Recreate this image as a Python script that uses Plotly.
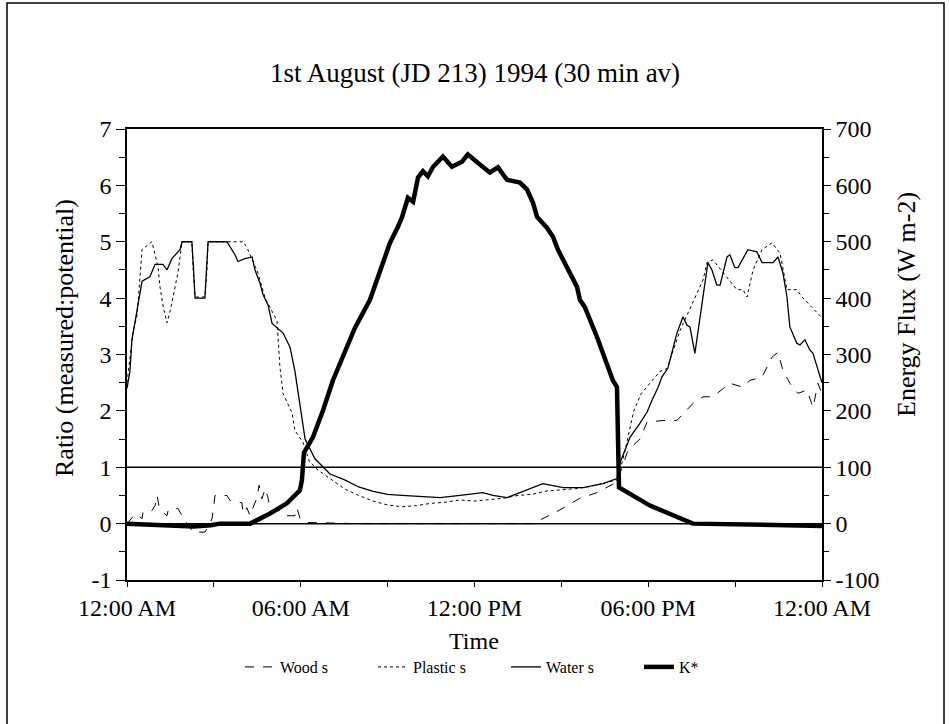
import plotly.graph_objects as go

# Chart text
title_text = "1st August (JD 213) 1994 (30 min av)"
time_ticks = [0, 6, 12, 18, 24]
time_labels = ["12:00 AM", "06:00 AM", "12:00 PM", "06:00 PM", "12:00 AM"]
ratio_ticks = [-1, 0, 1, 2, 3, 4, 5, 6, 7]
ratio_labels = ["-1", "0", "1", "2", "3", "4", "5", "6", "7"]
flux_ticks = [-100, 0, 100, 200, 300, 400, 500, 600, 700]
flux_labels = ["-100", "0", "100", "200", "300", "400", "500", "600", "700"]

# Ratio (measured:potential) for the three surfaces, time in decimal hours
wood_t = [0.00, 0.28, 0.38, 0.52, 0.55, 0.86, 0.97, 1.04, 1.10, 1.24, 1.38, 1.42, 1.55, 1.76,
          1.90, 2.07, 2.28, 2.69, 2.87, 2.94, 3.04, 3.45, 3.56, 3.97, 4.01, 4.14, 4.25, 4.35,
          4.49, 4.56, 4.66, 4.77, 4.87, 4.94, 5.28, 5.39, 5.52, 5.80, 5.87, 5.97, 6.2, 8.0,
          10.0, 12.0, 14.0, 14.2, 14.8, 15.64, 16.23, 16.78, 16.95, 17.3, 17.71, 17.96, 18.51,
          18.99, 19.54, 19.89, 20.23, 20.82, 21.27, 21.51, 21.93, 22.27, 22.48, 22.65, 22.89,
          23.17, 23.48, 23.69, 23.86, 24.0]
wood_v = [0.0, 0.17, 0.14, 0.09, 0.2, 0.23, 0.32, 0.5, 0.32, 0.2, 0.14, 0.23, 0.27, 0.27,
          0.14, 0.0, -0.15, -0.15, 0.0, 0.1, 0.5, 0.5, 0.41, 0.37, 0.18, 0.28, 0.14, 0.28,
          0.46, 0.68, 0.44, 0.62, 0.46, 0.23, 0.23, 0.18, 0.14, 0.14, 0.28, 0.1, 0.02, 0.0,
          0.0, 0.0, 0.0, 0.05, 0.2, 0.45, 0.55, 0.7, 0.78, 1.3, 1.5, 1.8, 1.83,
          1.83, 2.13, 2.25, 2.25, 2.49, 2.42, 2.54, 2.6, 2.95, 3.04, 2.72, 2.49,
          2.31, 2.37, 2.06, 2.49, 2.3]

plastic_t = [0.00, 0.21, 0.35, 0.52, 0.86, 1.07, 1.14, 1.24, 1.38, 1.48, 1.59, 1.66, 1.76,
             1.90, 2.24, 2.28, 2.35, 2.69, 2.76, 2.80, 4.01, 4.14, 4.52, 4.77, 5.18, 5.28,
             5.39, 5.70, 5.80, 6.08, 6.3, 6.6, 7.0, 7.5, 8.0, 8.5, 9.0, 9.5, 10.0, 10.5,
             11.0, 11.5, 12.0, 12.5, 13.0, 13.5, 14.0, 14.5, 15.0, 15.5, 16.0, 16.5, 16.95,
             17.2, 17.5, 17.75, 18.4, 18.65, 19.10, 19.89, 20.03, 20.23, 21.06, 21.27, 21.41,
             21.62, 21.93, 22.27, 22.55, 22.79, 23.13, 23.31, 23.58, 23.83, 24.0]
plastic_v = [2.5, 3.4, 3.7, 4.86, 5.0, 4.56, 4.2, 3.88, 3.56, 3.75, 4.02, 4.2, 4.45,
             5.0, 5.0, 4.56, 4.02, 4.02, 4.5, 5.0, 5.0, 4.9, 4.45, 4.0, 3.6, 2.78,
             2.31, 1.96, 1.65, 1.44, 1.1, 0.95, 0.8, 0.62, 0.5, 0.4, 0.33, 0.3, 0.32, 0.36,
             0.38, 0.42, 0.4, 0.42, 0.45, 0.5, 0.52, 0.58, 0.6, 0.62, 0.66, 0.72, 0.78,
             1.3, 2.0, 2.3, 2.7, 2.75, 3.43, 4.32, 4.63, 4.68, 4.15, 4.15, 4.02,
             4.5, 4.86, 4.98, 4.8, 4.15, 4.15, 4.02, 3.88, 3.74, 3.65]

water_t = [0.00, 0.10, 0.17, 0.28, 0.52, 0.79, 0.97, 1.24, 1.38, 1.55, 1.83, 1.90, 2.24,
           2.30, 2.35, 2.69, 2.75, 2.80, 3.45, 3.73, 3.83, 4.07, 4.32, 4.42, 4.59, 4.70,
           4.87, 5.01, 5.39, 5.63, 5.80, 5.97, 6.15, 6.49, 7.01, 7.5, 8.0, 8.5, 9.0, 9.5,
           10.0, 10.81, 11.50, 12.29, 12.64, 13.12, 13.57, 14.36, 15.06, 15.75, 16.44, 16.92,
           17.02, 17.37, 17.71, 17.96, 18.13, 18.34, 18.47, 18.68, 18.99, 19.20, 19.34, 19.44,
           19.61, 19.72, 19.89, 20.06, 20.20, 20.37, 20.48, 20.72, 20.82, 20.99, 21.10, 21.44,
           21.75, 21.93, 22.31, 22.48, 22.65, 22.79, 22.89, 23.13, 23.24, 23.41, 23.58, 23.69,
           23.83, 23.93, 24.0]
water_v = [2.4, 2.7, 3.26, 3.6, 4.3, 4.38, 4.6, 4.6, 4.5, 4.7, 4.86, 5.0, 5.0,
           4.5, 4.0, 4.0, 4.5, 5.0, 5.0, 4.77, 4.65, 4.7, 4.73, 4.5, 4.27, 4.06,
           3.88, 3.55, 3.38, 3.13, 2.7, 2.1, 1.5, 1.15, 0.88, 0.78, 0.65, 0.57, 0.52, 0.5,
           0.48, 0.46, 0.5, 0.55, 0.5, 0.46, 0.55, 0.71, 0.64, 0.64, 0.71, 0.8,
           1.07, 1.53, 1.78, 1.98, 2.19, 2.42, 2.6, 2.76, 3.38, 3.67, 3.52, 3.49,
           3.02, 3.43, 4.02, 4.63, 4.5, 4.23, 4.23, 4.73, 4.77, 4.54, 4.54, 4.86,
           4.82, 4.63, 4.63, 4.73, 4.45, 4.02, 3.49, 3.2, 3.17, 3.26, 3.08, 3.02,
           2.78, 2.6, 2.5]

# Net shortwave radiation K* (W m-2), right axis
kstar_t = [0.0, 1.9, 2.3, 2.9, 3.2, 4.25, 4.94, 5.52, 5.97, 6.04, 6.11, 6.42, 6.77, 7.11,
           7.42, 7.87, 8.39, 8.74, 9.08, 9.36, 9.50, 9.70, 9.88, 10.05, 10.22, 10.39, 10.57,
           10.91, 11.22, 11.57, 11.77, 12.09, 12.53, 12.81, 13.12, 13.57, 13.81, 14.02, 14.16,
           14.50, 14.71, 14.88, 15.12, 15.30, 15.54, 15.64, 15.81, 16.23, 16.51, 16.78, 16.92,
           16.95, 16.99, 18.06, 19.54, 24.0]
kstar_v = [0, -3, -5, -3, 0, 0, 18, 36, 59, 77, 126, 153, 201, 254,
           290, 347, 397, 450, 498, 527, 544, 578, 571, 614, 625, 616, 633,
           651, 633, 642, 655, 641, 623, 632, 610, 605, 593, 569, 544,
           525, 509, 486, 463, 445, 420, 397, 384, 331, 290, 254, 242,
           107, 64, 32, 0, -4]

FONT = "Liberation Serif, Times New Roman, serif"
W, H = 949, 724
ML, MR, MT, MB = 127, 127, 129, 144
PW, PH = W - ML - MR, H - MT - MB


def px_x(px):
    return (px - ML) / PW


def px_y(py):
    return (H - MB - py) / PH


fig = go.Figure()
fig.add_trace(go.Scatter(x=wood_t, y=wood_v, name="Wood s", mode="lines",
                         line=dict(color="black", width=1, dash="dash")))
fig.add_trace(go.Scatter(x=plastic_t, y=plastic_v, name="Plastic s", mode="lines",
                         line=dict(color="black", width=1, dash="dot")))
fig.add_trace(go.Scatter(x=water_t, y=water_v, name="Water s", mode="lines",
                         line=dict(color="black", width=1.3)))
fig.add_trace(go.Scatter(x=kstar_t, y=kstar_v, name="K*", mode="lines", yaxis="y2",
                         line=dict(color="black", width=4.5)))

axis_common = dict(showgrid=False, zeroline=False, showline=True, linecolor="black",
                   linewidth=1.5, ticks="outside", tickcolor="black",
                   tickfont=dict(family=FONT, size=24, color="black"))

fig.update_layout(
    width=W, height=H, autosize=False,
    margin=dict(l=ML, r=MR, t=MT, b=MB),
    paper_bgcolor="white", plot_bgcolor="white",
    font=dict(family=FONT, color="black"),
    title=dict(text=title_text, x=475 / W, xanchor="center", y=1 - 73 / H,
               yanchor="middle", font=dict(family=FONT, size=27, color="black")),
    xaxis=dict(range=[0, 24], tickmode="array", tickvals=time_ticks, ticktext=time_labels,
               mirror=True, ticklen=5,
               minor=dict(tickmode="linear", tick0=0, dtick=3, ticks="outside", ticklen=5,
                          tickcolor="black"),
               **axis_common),
    yaxis=dict(range=[-1, 7], tickmode="array", tickvals=ratio_ticks, ticktext=ratio_labels,
               ticklen=9,
               minor=dict(tickmode="linear", tick0=0, dtick=0.5, ticks="outside", ticklen=6,
                          tickcolor="black"),
               **axis_common),
    yaxis2=dict(range=[-100, 700], overlaying="y", side="right", tickmode="array",
                tickvals=flux_ticks, ticktext=flux_labels, ticklen=7,
                minor=dict(tickmode="linear", tick0=0, dtick=50, ticks="outside", ticklen=5,
                           tickcolor="black"),
                **axis_common),
    showlegend=True,
    legend=dict(orientation="h", x=px_x(240), xanchor="left", y=px_y(667),
                yanchor="middle", font=dict(family=FONT, size=16, color="black"),
                bgcolor="rgba(0,0,0,0)", entrywidth=88, entrywidthmode="pixels",
                itemwidth=30, tracegroupgap=0),
)

# Reference lines at ratio 1 and 0
for level in (1, 0):
    fig.add_shape(type="line", xref="x", yref="y", x0=0, x1=24, y0=level, y1=level,
                  line=dict(color="black", width=1.5), layer="below")

# Outer frame
fig.add_shape(type="rect", xref="paper", yref="paper",
              x0=px_x(7), x1=px_x(944), y0=px_y(760), y1=px_y(3),
              line=dict(color="black", width=1.5), fillcolor="rgba(0,0,0,0)")

# Axis titles
fig.add_annotation(text="Time", xref="paper", yref="paper", x=px_x(474), y=px_y(641),
                   showarrow=False, xanchor="center", yanchor="middle",
                   font=dict(family=FONT, size=24, color="black"))
fig.add_annotation(text="Ratio (measured:potential)", xref="paper", yref="paper",
                   x=px_x(64), y=px_y(338), textangle=-90, showarrow=False,
                   xanchor="center", yanchor="middle",
                   font=dict(family=FONT, size=26, color="black"))
fig.add_annotation(text="Energy Flux (W m-2)", xref="paper", yref="paper",
                   x=px_x(906), y=px_y(305), textangle=-90, showarrow=False,
                   xanchor="center", yanchor="middle",
                   font=dict(family=FONT, size=26, color="black"))

fig.write_html("out.html")
